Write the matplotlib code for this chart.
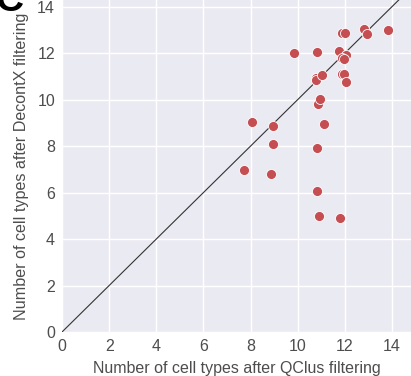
import numpy as np
import matplotlib
matplotlib.use("Agg")
import matplotlib.pyplot as plt

# mean number of cell types per sample, QClus vs DecontX
qclus = [7.71, 8.04, 8.85, 8.96, 8.96, 9.83, 10.81, 10.77, 10.77, 11.03,
         10.85, 10.96, 11.13, 10.81, 10.83, 10.89, 11.79, 11.75, 11.87, 12.0,
         11.89, 11.97, 12.03, 12.04, 11.86, 11.97, 12.81, 12.92, 13.81]
decontx = [6.98, 9.04, 6.79, 8.85, 8.07, 11.99, 12.06, 10.94, 10.83, 11.06,
           9.8, 10.04, 8.93, 7.91, 6.07, 4.99, 4.9, 12.09, 12.86, 12.86,
           11.09, 11.09, 10.76, 11.9, 11.8, 11.73, 13.04, 12.8, 12.97]

ticks = [0, 2, 4, 6, 8, 10, 12, 14]

plt.rcParams['font.family'] = ['Liberation Sans', 'DejaVu Sans']

fig = plt.figure(figsize=(4.11, 3.76), dpi=100)
ax = fig.add_axes([62 / 411, 44 / 376, 349 / 411, 332 / 376])
ax.set_facecolor('#EAEAF2')
for s in ax.spines.values():
    s.set_visible(False)
ax.grid(True, color='white', linewidth=1.0)
ax.set_axisbelow(True)

ax.plot([0, 15], [0, 15], color='#333333', linewidth=0.8, zorder=2)
ax.scatter(qclus, decontx, s=52, color='#C44E52', edgecolor='white',
           linewidth=0.6, zorder=3)

ax.set_xlim(0, 14.8)
ax.set_ylim(0, 14.28)
ax.set_xticks(ticks)
ax.set_yticks(ticks)
ax.tick_params(length=0, pad=5, labelsize=11.5, labelcolor='#4d4d4d')
ax.set_xlabel('Number of cell types after QClus filtering', fontsize=11.5,
              color='#4d4d4d', labelpad=5)
ax.set_ylabel('Number of cell types after DecontX filtering', fontsize=11.6,
              color='#4d4d4d', labelpad=6)

fig.text(-0.012, 0.972, 'C', fontsize=28, fontweight='bold', color='black',
         ha='left', va='baseline')

fig.savefig('out.png', dpi=100)
